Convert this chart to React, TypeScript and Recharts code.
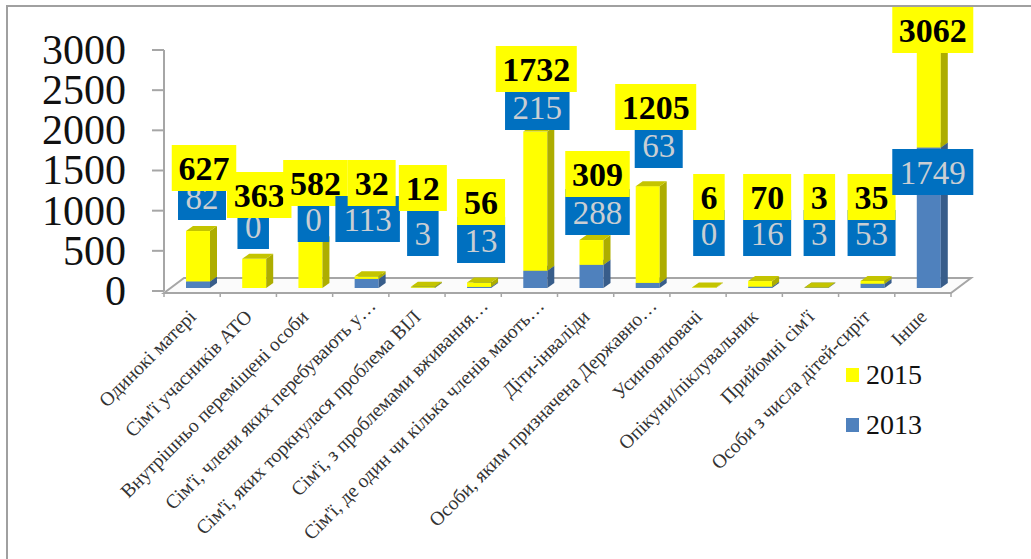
import React from 'react'
import { BarChart, Bar, XAxis, YAxis, LabelList } from 'recharts'

const categories = [
  'Одинокі матері',
  "Сім'ї учасників АТО",
  'Внутрішньо переміщені особи',
  "Сім'ї, члени яких перебувають у…",
  "Сім'ї, яких торкнулася проблема ВІЛ",
  "Сім'ї, з проблемами вживання…",
  "Сім'ї, де один чи кілька членів мають…",
  'Діти-інваліди',
  'Особи, яким призначена Державно…',
  'Усиновлювачі',
  'Опікуни/піклувальник',
  "Прийомні сім'ї",
  'Особи з числа дітей-сиріт',
  'Інше',
]
const values2013 = [82, 0, 0, 113, 3, 13, 215, 288, 63, 0, 16, 3, 53, 1749]
const values2015 = [627, 363, 582, 32, 12, 56, 1732, 309, 1205, 6, 70, 3, 35, 3062]
const yTicks = [0, 500, 1000, 1500, 2000, 2500, 3000]

// the labels were placed by hand in the original, so they get their own layout tables
const yellowLabelDx = [12, 11, 11, 11, 6, 8, 7, 12, 14, 11, 13, 9, 5, 10]
const yellowLabelTop = [145, 172, 160, 160, 165, 179, 46, 151, 84, 174, 174, 174, 174, 7]
const blueLabelDx = [10, 5, 9, 7, 6, 8, 8, 12, 17, 11, 13, 9, 5, 10]
const blueLabelBottom = [220, 249, 242, 242, 256, 263, 130, 235, 168, 256, 256, 256, 256, 195]

const chartData = categories.map((name, i) => ({
  name,
  y2013: values2013[i],
  y2015: values2015[i],
}))

const W = 1031
const H = 559
const PLOT = { left: 164, right: 951, top: 50, bottom: 291 }
const SERIF = '"Liberation Serif", "Times New Roman", serif'
const DEPTH_X = 7
const DEPTH_Y = 5

const Bar3D = ({ x, y, width, height, front, side, top, value }: any) => {
  const v = Array.isArray(value) ? value[1] - value[0] : value
  if (!v) return null
  const l = x + 6
  const r = l + width
  const t = y - 3
  const b = y + height - 3
  return (
    <g>
      <rect x={l} y={t} width={width} height={height} fill={front} />
      <polygon points={`${r},${t} ${r + DEPTH_X},${t - DEPTH_Y} ${r + DEPTH_X},${b - DEPTH_Y} ${r},${b}`} fill={side} />
      <polygon points={`${l},${t} ${l + DEPTH_X},${t - DEPTH_Y} ${r + DEPTH_X},${t - DEPTH_Y} ${r},${t}`} fill={top} />
    </g>
  )
}

const boxWidth = (v: number) => String(v).length * 16.5 + 15

const ValueLabels = ({ x, width, index }: any) => {
  const cx = x + width / 2
  const blue = values2013[index]
  const yellow = values2015[index]
  const bw = boxWidth(blue)
  const yw = boxWidth(yellow)
  const bb = blueLabelBottom[index]
  const yt = yellowLabelTop[index]
  const bc = cx + blueLabelDx[index]
  const yc = cx + yellowLabelDx[index]
  return (
    <g fontFamily={SERIF} textAnchor="middle">
      <rect x={bc - bw / 2} y={bb - 46} width={bw} height={46} fill="#0070c0" />
      <text x={bc} y={bb - 22} dominantBaseline="central" fontSize={33} fill="#c9ced3">{blue}</text>
      <rect x={yc - yw / 2} y={yt} width={yw} height={46} fill="#ffff00" />
      <text x={yc} y={yt + 23} dominantBaseline="central" fontSize={34} fontWeight="bold" fill="#000">{yellow}</text>
    </g>
  )
}

const CategoryTick = ({ x, y, payload }: any) => {
  // truncated labels sit further along the slant in the original
  const shift = String(payload.value).endsWith('…') ? 11 : 0
  const tx = x + 5 + shift
  const ty = y + 19 - shift
  return (
    <text
      x={tx}
      y={ty}
      transform={`rotate(-45 ${tx} ${ty})`}
      textAnchor="end"
      fontFamily={SERIF}
      fontSize={19.6}
      fill="#333"
    >
      {payload.value}
    </text>
  )
}

const Floor = () => {
  const step = (PLOT.right - PLOT.left) / categories.length
  const y = PLOT.bottom + 2
  return (
    <g stroke="#a6a6a6" strokeWidth={2}>
      <polygon
        points={`${PLOT.left},${y} ${PLOT.right},${y} ${PLOT.right + 20},${y - 15} ${PLOT.left + 20},${y - 15}`}
        fill="#fbfbfb"
      />
      {categories.concat('').map((_, i) => (
        <line key={i} x1={PLOT.left + step * i} x2={PLOT.left + step * i} y1={y} y2={y + 4} strokeWidth={1.5} />
      ))}
    </g>
  )
}

const LegendBox = () => (
  <div style={{ position: 'absolute', left: 846, top: 350, fontFamily: SERIF, fontSize: 28, color: '#111' }}>
    {[['2015', '#ffff00'], ['2013', '#4f81bd']].map(([label, color]) => (
      <div key={label} style={{ display: 'flex', alignItems: 'center', height: 50 }}>
        <span style={{ width: 13, height: 14, background: color, marginRight: 7 }} />
        {label}
      </div>
    ))}
  </div>
)

export default function App() {
  return (
    <div style={{ position: 'absolute', left: 0, top: 0, width: W, height: H, background: '#fff', overflow: 'hidden' }}>
      <div style={{ position: 'absolute', left: 6, top: 5, width: W, height: H, borderLeft: '2px solid #a0a0a0', borderTop: '2px solid #a0a0a0' }} />
      <BarChart
        width={W}
        height={H}
        data={chartData}
        margin={{ top: PLOT.top, right: W - PLOT.right, bottom: 0, left: 0 }}
        barSize={24}
        style={{ position: 'absolute', left: 0, top: 0 }}
      >
        <Floor />
        <XAxis
          dataKey="name"
          interval={0}
          height={H - PLOT.bottom}
          axisLine={false}
          tickLine={false}
          tick={<CategoryTick />}
        />
        <YAxis
          width={PLOT.left}
          domain={[0, 3000]}
          ticks={yTicks}
          allowDataOverflow
          interval={0}
          axisLine={{ stroke: '#a6a6a6', strokeWidth: 2 }}
          tickLine={{ stroke: '#a6a6a6', strokeWidth: 2 }}
          tickSize={12}
          tickMargin={26}
          tick={{ fontFamily: SERIF, fontSize: 42, fill: '#111', dy: -1 }}
        />
        <Bar
          dataKey="y2013"
          stackId="a"
          isAnimationActive={false}
          shape={(p: any) => <Bar3D {...p} front="#4f81bd" side="#385d8a" top="#426a9c" />}
        />
        <Bar
          dataKey="y2015"
          stackId="a"
          isAnimationActive={false}
          shape={(p: any) => <Bar3D {...p} front="#ffff00" side="#adad00" top="#c4c400" />}
        >
          <LabelList dataKey="y2015" content={<ValueLabels />} />
        </Bar>
      </BarChart>
      <LegendBox />
    </div>
  )
}
